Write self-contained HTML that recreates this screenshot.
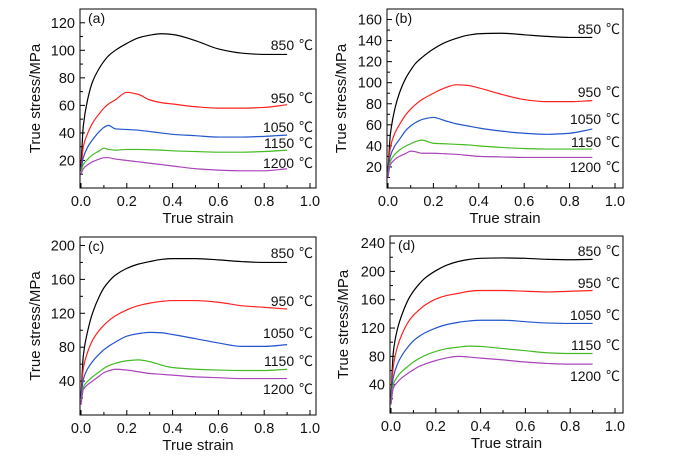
<!DOCTYPE html>
<html><head><meta charset="utf-8"><style>
html,body{margin:0;padding:0;background:#fff;}
svg{display:block;font-family:"Liberation Sans","Noto Sans CJK SC",sans-serif;}
</style></head><body>
<svg id="chart" width="693" height="457" viewBox="0 0 693 457"></svg>
<script>
const strains = [0,0.01,0.03,0.05,0.08,0.1,0.12,0.15,0.2,0.25,0.3,0.35,0.4,0.5,0.6,0.7,0.8,0.9];
const temps = ["850 ℃","950 ℃","1050 ℃","1150 ℃","1200 ℃"];
const colors = ["#000000","#ff2020","#2255cc","#44bb22","#aa44bb"];
const xTicks = [0,0.2,0.4,0.6,0.8,1.0];
const xTickLabels = ["0.0","0.2","0.4","0.6","0.8","1.0"];
// panel (a)
const aVals = [
[15,45,65,77,87,92,96,100,105,109,111,112,111.5,107,101,98,97,97],
[12,30,40,47,54,58,61,64,69.5,68,64,62,61,59,58,58,58.5,60.5],
[12,22,30,35,41,44,45.5,43,42.5,42,41,40,39,38,37,37,37.5,38.5],
[12,17,21,24,27,29,28,27.5,28,28,27.8,27.5,27,26.5,26,26,26.5,27.5],
[10,14,17,19,21,22,22,21,20,19,18,17,16,14,13,12.5,12.5,14]];
const aYTicks = [20,40,60,80,100,120];
// panel (b)
const bVals = [
[15,50,75,90,105,112,118,124,132,138,142,145,146.5,147,145.5,144,143,143],
[15,38,52,60,70,75,79,84,90,95,98,97.5,95,89,84,82,82,83],
[15,30,40,46,55,59,62,65,67,64,61,59,57,54,52,51,52,56],
[12,25,32,36,40,42,44,45.5,42.5,42,41.5,41,40,38.5,37.5,37,37,37],
[10,22,27,30,33,35,34.5,33,33,32.5,32,31,30,29.5,29,29,29,29]];
const bYTicks = [20,40,60,80,100,120,140,160];
// panel (c)
const cVals = [
[20,70,100,120,140,150,157,165,173,178,181,183.5,184.5,184.5,183,181,180,180],
[20,55,75,88,100,106,111,117,124,129,132,134,135,135,133,129,127,125],
[20,42,55,63,72,77,81,86,93,96,97.5,97,95,90,85,81,81,83],
[15,33,40,45,51,55,58,61,64,65,63,59,56,54,53,52.5,52.5,54],
[12,30,36,40,46,50,52,54,53,51,49,48,47,45,44,43,43,43]];
const cYTicks = [40,80,120,160,200];
// panel (d)
const dVals = [
[20,85,120,140,162,172,180,190,201,209,214,217,218.5,219,218.5,217,216.5,217],
[20,65,95,112,130,138,144,152,161,166,169,172,173,173,172,171,172,173],
[20,50,70,82,95,102,107,113,120,125,128,130,131,131,129,127,126.5,126.5],
[15,40,52,59,67,72,76,81,87,91,93,94.5,94,91,88,85,84,84],
[12,35,44,50,57,61,65,69,74,78,80,79,77.5,75,72,70,69,69]];
const dYTicks = [40,80,120,160,200,240];

const NS="http://www.w3.org/2000/svg";
const svg=document.getElementById('chart');
function mk(tag,attrs,parent){const e=document.createElementNS(NS,tag);for(const k in attrs)e.setAttribute(k,attrs[k]);(parent||svg).appendChild(e);return e;}

const panels=[
 {id:'a',vals:aVals,yt:aYTicks,ymax:130,ymin:0,L:80,R:316,T:9,B:188,x1:310,labY:[45,98,127,143,163],ytitleX:40},
 {id:'b',vals:bVals,yt:bYTicks,ymax:170,ymin:0,L:387,R:623,T:9,B:188,x1:615,labY:[29,92,119,142,167],ytitleX:346},
 {id:'c',vals:cVals,yt:cYTicks,ymax:210,ymin:0,L:80,R:316,T:237,B:415,x1:310,labY:[253,301,333,361,389],ytitleX:40},
 {id:'d',vals:dVals,yt:dYTicks,ymax:250,ymin:0,L:390,R:623,T:236,B:413,x1:615,labY:[251,283,315,345,376],ytitleX:348}
];

function smoothPath(pts){
 const n=pts.length,dx=[],sl=[],m=[];
 for(let i=0;i<n-1;i++){dx[i]=pts[i+1][0]-pts[i][0];sl[i]=(pts[i+1][1]-pts[i][1])/dx[i];}
 m[0]=sl[0];m[n-1]=sl[n-2];
 for(let i=1;i<n-1;i++){
  if(sl[i-1]*sl[i]<=0)m[i]=0;
  else{const w1=2*dx[i]+dx[i-1],w2=dx[i]+2*dx[i-1];m[i]=(w1+w2)/(w1/sl[i-1]+w2/sl[i]);}
 }
 let d="M"+pts[0][0].toFixed(2)+","+pts[0][1].toFixed(2);
 for(let i=0;i<n-1;i++){
  const h=dx[i]/3;
  d+=" C"+(pts[i][0]+h).toFixed(2)+","+(pts[i][1]+m[i]*h).toFixed(2)+" "+(pts[i+1][0]-h).toFixed(2)+","+(pts[i+1][1]-m[i+1]*h).toFixed(2)+" "+pts[i+1][0].toFixed(2)+","+pts[i+1][1].toFixed(2);
 }
 return d;
}

panels.forEach(p=>{
 const g=mk('g',{});
 
 
 const x0=p.L+1;
 const xs=v=>x0+v*(p.x1-x0);
 const ys=v=>p.B-(v-p.ymin)/(p.ymax-p.ymin)*(p.B-p.T);
 const frame=mk('rect',{x:p.L,y:p.T,width:p.R-p.L,height:p.B-p.T,fill:'none',stroke:'#000','stroke-width':1},g);
 
 
 for(let i=0;i<=10;i++){
  const v=i/10,x=xs(v),len=(i%2===0)?5:3;
  const t=mk('line',{x1:x,x2:x,y1:p.B,y2:p.B-len,stroke:'#000','stroke-width':1},g);
  
  
 }
 xTicks.forEach((v,i)=>{
  const t=mk('text',{x:xs(v),y:p.B+18,'font-size':14.5,'text-anchor':'middle',fill:'#111'},g);
  t.textContent=xTickLabels[i];
  
  
 });
 const step=p.yt[1]-p.yt[0];
 for(let v=0;v<=p.ymax;v+=step/2){
  const y=ys(v);if(y<p.T)continue;
  const major=p.yt.includes(v);
  const t=mk('line',{x1:p.L,x2:p.L+(major?5:3),y1:y,y2:y,stroke:'#000','stroke-width':1},g);
  
  
 }
 p.yt.forEach(v=>{
  const t=mk('text',{x:p.L-5,y:ys(v)+5,'font-size':14.5,'text-anchor':'end',fill:'#111'},g);
  t.textContent=String(v);
  
  
 });
 const xt=mk('text',{x:(p.L+p.R)/2,y:p.B+35,'font-size':15,'text-anchor':'middle',fill:'#111'},g);
 xt.textContent='True strain';
 
 
 const cy=(p.T+p.B)/2;
 const yt=mk('text',{x:p.ytitleX,y:cy,'font-size':15,'text-anchor':'middle',fill:'#111',transform:'rotate(-90 '+p.ytitleX+' '+cy+')'},g);
 yt.textContent='True stress/MPa';
 
 
 const pl=mk('text',{x:p.L+8,y:p.T+14,'font-size':14,fill:'#111'},g);
 pl.textContent='('+p.id+')';
 
 
 p.vals.forEach((ser,si)=>{
  const pts=strains.map((s,i)=>[xs(s),ys(ser[i])]);
  const path=mk('path',{d:smoothPath(pts),fill:'none',stroke:colors[si],'stroke-width':1.2},g);
  
  
  const lb=mk('text',{x:p.R-3,y:p.labY[si]+5,'font-size':14,'text-anchor':'end',fill:'#111','word-spacing':'1px'},g);
  lb.textContent=temps[si];
  
  
 });
});
</script>
</body></html>
